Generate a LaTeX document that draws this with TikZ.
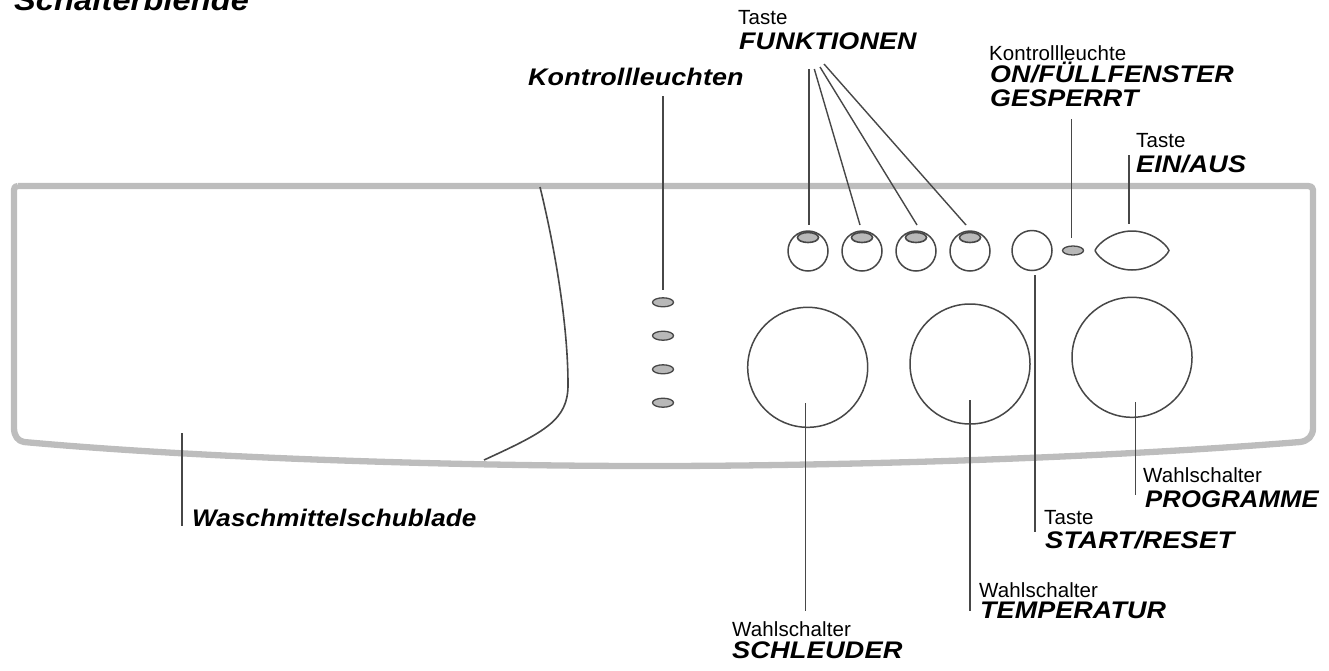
\documentclass[tikz,border=0pt]{standalone}
\usepackage{fontspec}
\setmainfont{Liberation Sans}
\newfontface\labelface[FakeStretch=1.12,LetterSpace=0.5]{Liberation Sans Bold Italic}
\newfontface\thinface[LetterSpace=0.5]{Liberation Sans}
\usetikzlibrary{shapes.geometric}
\definecolor{panelgrey}{HTML}{BDBDBD}
\definecolor{inkgrey}{HTML}{474747}
\definecolor{ledgrey}{HTML}{B8B8B8}
\newcommand{\thinlabel}[1]{{\fontsize{20.5}{20.5}\thinface #1}}
\newcommand{\boldlabel}[1]{{\fontsize{24}{24}\labelface #1}}
\tikzset{
  x=1pt,y=-1pt,
  lbl/.style={inner sep=0pt,anchor=base west,text=black},
  leader/.style={draw=inkgrey,line width=1.4pt},
  outlinec/.style={circle,draw=inkgrey,line width=1.5pt,inner sep=0pt,minimum size=#1},
  keycap/.style={ellipse,draw=inkgrey,line width=1.6pt,fill=ledgrey,inner sep=0pt,minimum width=21pt,minimum height=10pt},
  led/.style={ellipse,draw=inkgrey,line width=1.3pt,fill=ledgrey,inner sep=0pt,minimum width=21pt,minimum height=9pt},
  panel/.style={draw=panelgrey,line width=6.3pt,line join=round}
}
\begin{document}
\begin{tikzpicture}
\useasboundingbox (0,0) rectangle (1329,670);
% panel
\draw[panel] (18,186) -- (1308,186) .. controls (1311,186) and (1313,187) .. (1313,190)
  -- (1313,428) .. controls (1313,436) and (1308,441) .. (1300,442)
  .. controls (1100,458) and (850,466) .. (650,466)
  .. controls (450,466) and (200,458) .. (24,442)
  .. controls (18,441) and (14,436) .. (14,428) -- (14,190) .. controls (14,187) and (15,186) .. (18,186);
\coordinate (drawerA) at (540,187);
\coordinate (drawerB) at (484,460);
\draw[draw=inkgrey,line width=1.6pt] (drawerA) .. controls (553,240) and (568,320) .. (568,385) .. controls (568,420) and (545,432) .. (drawerB);
% buttons
\foreach \n/\x in {1/808,2/862,3/916,4/970}{
  \node[outlinec=40pt] (btn\n) at (\x,251) {};
  \node[keycap] (cap\n) at (\x,237.5) {};
}
\node[outlinec=40pt] (startbtn) at (1032,250.5) {};
\node[led] (onled) at (1073,250.5) {};
\draw[draw=inkgrey,line width=1.5pt] (1095,250.5) .. controls (1098,243) and (1114,231) .. (1132,231) .. controls (1150,231) and (1166,243) .. (1169,250.5) .. controls (1166,258) and (1150,270) .. (1132,270) .. controls (1114,270) and (1098,258) .. (1095,250.5);
\coordinate (einT) at (1129,155);
\coordinate (einB) at (1129,224);
% dials
\node[outlinec=120pt] (dialS) at (807.7,367.3) {};
\node[outlinec=120pt] (dialT) at (970,364) {};
\node[outlinec=120pt] (dialP) at (1132,357.3) {};
% lamps
\foreach \n/\y in {1/302.3,2/335.7,3/369.3,4/402.7}{
  \node[led] (lamp\n) at (663,\y) {};
}
% labels
\node[lbl] (title) at (14,10) {\fontsize{29}{29}\labelface Schalterblende};
\node[lbl] (kontroll) at (528,85) {\boldlabel{Kontrollleuchten}};
\node[lbl] (tfunk1) at (738,24) {\thinlabel{Taste}};
\node[lbl] (tfunk2) at (739,49) {\boldlabel{FUNKTIONEN}};
\node[lbl] (kon1) at (989,60.5) {\thinlabel{Kontrollleuchte}};
\node[lbl] (kon2) at (990,82) {\boldlabel{ON/FÜLLFENSTER}};
\node[lbl] (kon3) at (990,106) {\boldlabel{GESPERRT}};
\node[lbl] (tein1) at (1136,147) {\thinlabel{Taste}};
\node[lbl] (tein2) at (1136,172.5) {\boldlabel{EIN/AUS}};
\node[lbl] (wasch) at (192,526) {\scalebox{0.97}[1]{\boldlabel{Waschmittelschublade}}};
\node[lbl] (wp1) at (1143,482) {\thinlabel{Wahlschalter}};
\node[lbl] (wp2) at (1145,507) {\scalebox{0.955}[1]{\boldlabel{PROGRAMME}}};
\node[lbl] (ts1) at (1044,524) {\thinlabel{Taste}};
\node[lbl] (ts2) at (1045,548) {\scalebox{1.02}[1]{\boldlabel{START/RESET}}};
\node[lbl] (wt1) at (979,597) {\thinlabel{Wahlschalter}};
\node[lbl] (wt2) at (980,618) {\boldlabel{TEMPERATUR}};
\node[lbl] (ws1) at (732,636) {\thinlabel{Wahlschalter}};
\node[lbl] (ws2) at (732,658.5) {\scalebox{1.012}[1]{\boldlabel{SCHLEUDER}}};
% leader ends
\coordinate (f1) at (809,69); \coordinate (f1b) at (809,225);
\coordinate (f2) at (814.3,69); \coordinate (f2b) at (860,225);
\coordinate (f3) at (820,67); \coordinate (f3b) at (917,225);
\coordinate (f4) at (824,64); \coordinate (f4b) at (966,225);
\foreach \n in {1,2,3,4}{ \draw[leader] (f\n) -- (f\n b); }
\coordinate (kT) at (663,96); \coordinate (kB) at (663,290);
\draw[leader] (kT) -- (kB);
\coordinate (onT) at (1071.5,119); \coordinate (onB) at (1071.5,238);
\draw[leader] (onT) -- (onB);
\draw[leader] (einT) -- (einB);
\coordinate (sT) at (1035,275); \coordinate (sB) at (1035,532);
\draw[leader] (sT) -- (sB);
\coordinate (pT) at (1135.5,402); \coordinate (pB) at (1135.5,495);
\draw[leader] (pT) -- (pB);
\coordinate (tT) at (970,400); \coordinate (tB) at (970,611);
\draw[leader] (tT) -- (tB);
\coordinate (scT) at (805.5,403); \coordinate (scB) at (805.5,611);
\draw[leader] (scT) -- (scB);
\coordinate (wT) at (182,433); \coordinate (wB) at (182,526);
\draw[leader] (wT) -- (wB);
\end{tikzpicture}
\end{document}
